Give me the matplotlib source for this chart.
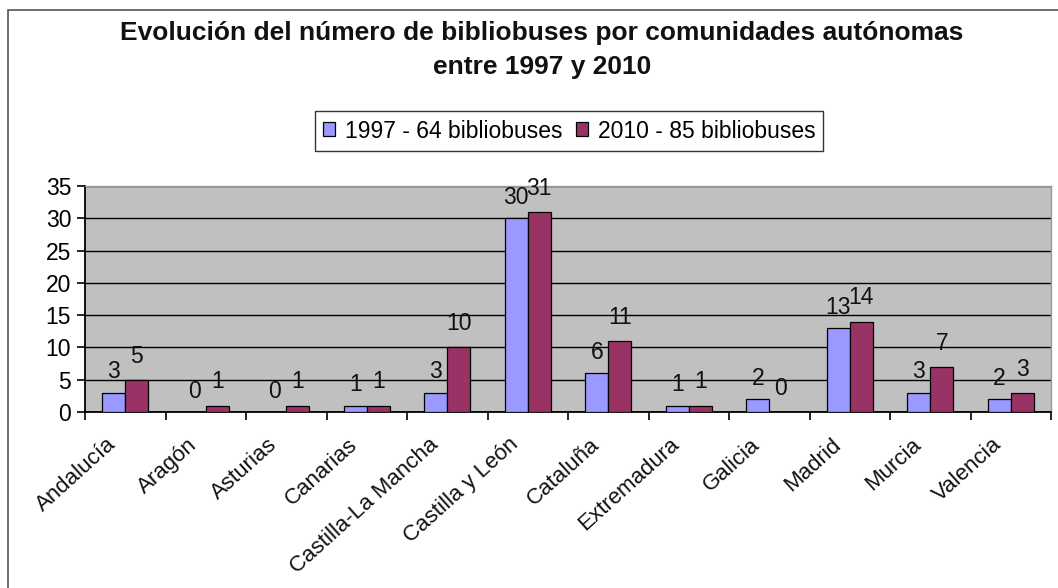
import matplotlib.pyplot as plt
import matplotlib.patches as mpatches
import matplotlib.transforms as mtransforms
import numpy as np

categories = ["Andalucía", "Aragón", "Asturias", "Canarias", "Castilla-La Mancha",
              "Castilla y León", "Cataluña", "Extremadura", "Galicia", "Madrid",
              "Murcia", "Valencia"]
v1997 = [3, 0, 0, 1, 3, 30, 6, 1, 2, 13, 3, 2]
v2010 = [5, 1, 1, 1, 10, 31, 11, 1, 0, 14, 7, 3]
label1997 = "1997 - 64 bibliobuses"
label2010 = "2010 - 85 bibliobuses"
title = "Evolución del número de bibliobuses por comunidades autónomas\nentre 1997 y 2010"
yticks = [0, 5, 10, 15, 20, 25, 30, 35]

plt.rcParams['font.family'] = ['Liberation Sans', 'DejaVu Sans']

W, H = 1058, 588
fig = plt.figure(figsize=(W / 100, H / 100), dpi=100)
ax = fig.add_axes([85 / W, 1 - 412 / H, (1051 - 85) / W, (412 - 186) / H])

# figure border (top and left visible)
fig.patches.append(mpatches.Rectangle((8 / W, -0.1), 1.2, 1 - 10 / H + 0.1,
                                      transform=fig.transFigure, fill=False,
                                      edgecolor='#555555', linewidth=1.2))

x = np.arange(len(categories))
bw = 0.2857
ax.set_facecolor('#C0C0C0')
b1 = ax.bar(x - bw / 2, v1997, bw, color='#9999FF', edgecolor='black', linewidth=0.9,
            label=label1997, zorder=3)
b2 = ax.bar(x + bw / 2, v2010, bw, color='#993366', edgecolor='black', linewidth=0.9,
            label=label2010, zorder=3)

for xi, v in zip(x - bw / 2, v1997):
    ax.annotate(str(v), (xi, v), xytext=(0, 15), textcoords='offset points',
                ha='center', va='center', fontsize=16.5, color='#111111')
for xi, v in zip(x + bw / 2, v2010):
    ax.annotate(str(v), (xi, v), xytext=(0, 17), textcoords='offset points',
                ha='center', va='center', fontsize=16.5, color='#111111')

ax.set_xlim(-0.5, len(categories) - 0.5)
ax.set_ylim(0, 35)
ax.set_yticks(yticks)
ax.yaxis.grid(True, color='black', linewidth=1.0, zorder=1)
ax.set_axisbelow(True)

ax.set_xticks(np.arange(-0.5, len(categories) + 0.5, 1))
ax.set_xticklabels([])
ax.tick_params(axis='x', which='major', length=6, width=1.2, direction='out')
ax.tick_params(axis='y', length=6, width=1.2, labelsize=16.5, pad=4)

shift = mtransforms.ScaledTranslation(-19 / 100, -22 / 100, fig.dpi_scale_trans)
for xi, name in zip(x, categories):
    ax.text(xi, 0, name, transform=ax.get_xaxis_transform() + shift,
            rotation=42, ha='right', va='top', rotation_mode='anchor',
            fontsize=16, color='#111111', clip_on=False)

for s in ['left', 'bottom']:
    ax.spines[s].set_color('black')
    ax.spines[s].set_linewidth(1.3)
for s in ['top', 'right']:
    ax.spines[s].set_color('#999999')
    ax.spines[s].set_linewidth(1.0)

leg = fig.legend(handles=[b1, b2], loc='center', bbox_to_anchor=(569 / W, 1 - 131 / H),
                 ncol=2, frameon=True, fancybox=False, fontsize=16.5,
                 handlelength=0.55, handleheight=0.55, handletextpad=0.4,
                 columnspacing=0.6, borderpad=0.35)
leg.get_frame().set_edgecolor('black')
leg.get_frame().set_linewidth(1.0)

fig.text(542 / W, 1 - 50 / H, title, ha='center', va='center', fontsize=19,
         fontweight='bold', linespacing=1.5, color='#111111')

fig.savefig('out.png', dpi=100)
